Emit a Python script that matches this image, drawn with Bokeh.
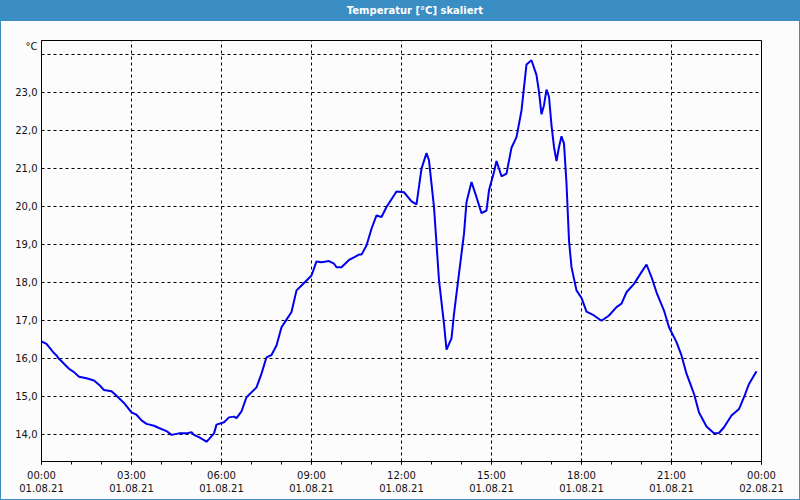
from bokeh.plotting import figure
from bokeh.models import FixedTicker, Range1d, Div
from bokeh.layouts import column
from bokeh.embed import file_html
from bokeh.resources import INLINE

# ---- data ----
times = ["00:00", "00:10", "00:25", "00:30", "00:35", "00:55", "01:05", "01:15", "01:30", "01:45",
         "01:55", "02:05", "02:20", "02:30", "02:45", "03:00", "03:10", "03:20", "03:30", "03:45",
         "03:55", "04:10", "04:20", "04:35", "04:50", "05:00", "05:05", "05:15", "05:30", "05:35",
         "05:45", "05:50", "06:05", "06:15", "06:25", "06:30", "06:40", "06:50", "07:10", "07:20",
         "07:30", "07:40", "07:50", "08:00", "08:10", "08:20", "08:30", "08:40", "09:00", "09:10",
         "09:20", "09:35", "09:45", "09:50", "10:00", "10:15", "10:25", "10:35", "10:40", "10:50",
         "11:00", "11:10", "11:20", "11:30", "11:50", "12:05", "12:20", "12:30", "12:40", "12:50",
         "12:55", "13:05", "13:10", "13:15", "13:25", "13:30", "13:40", "13:45", "13:55", "14:05",
         "14:10", "14:20", "14:30", "14:40", "14:50", "14:55", "15:05", "15:10", "15:20", "15:30",
         "15:40", "15:50", "16:00", "16:10", "16:20", "16:30", "16:35", "16:40", "16:45", "16:50",
         "16:55", "17:00", "17:05", "17:10", "17:15", "17:20", "17:25", "17:30", "17:35", "17:40",
         "17:50", "18:00", "18:10", "18:25", "18:40", "18:55", "19:10", "19:20", "19:30", "19:45",
         "20:00", "20:10", "20:20", "20:30", "20:45", "20:55", "21:10", "21:20", "21:30", "21:45",
         "21:55", "22:10", "22:25", "22:35", "22:45", "23:00", "23:15", "23:25", "23:35", "23:45",
         "23:50"]
temps = [16.46, 16.39, 16.15, 16.09, 16.00, 15.74, 15.65, 15.53, 15.49, 15.43,
         15.32, 15.18, 15.15, 15.03, 14.84, 14.59, 14.53, 14.38, 14.29, 14.24,
         14.18, 14.10, 14.00, 14.04, 14.04, 14.07, 14.00, 13.94, 13.82, 13.89,
         14.04, 14.27, 14.33, 14.46, 14.48, 14.44, 14.62, 14.99, 15.25, 15.61,
         16.04, 16.10, 16.35, 16.83, 17.03, 17.23, 17.80, 17.93, 18.19, 18.56,
         18.54, 18.57, 18.50, 18.41, 18.41, 18.60, 18.67, 18.74, 18.74, 18.98,
         19.42, 19.77, 19.73, 19.99, 20.40, 20.38, 20.14, 20.06, 21.00, 21.41,
         21.22, 19.99, 19.03, 18.06, 16.92, 16.24, 16.54, 17.18, 18.24, 19.29,
         20.12, 20.65, 20.25, 19.83, 19.90, 20.43, 20.91, 21.20, 20.80, 20.87,
         21.55, 21.83, 22.53, 23.74, 23.85, 23.46, 23.02, 22.43, 22.67, 23.08,
         22.89, 22.14, 21.57, 21.20, 21.57, 21.85, 21.66, 20.61, 19.11, 18.41,
         17.80, 17.60, 17.24, 17.14, 17.00, 17.14, 17.36, 17.45, 17.75, 17.97,
         18.28, 18.48, 18.15, 17.75, 17.27, 16.83, 16.44, 16.09, 15.61, 15.08,
         14.59, 14.22, 14.04, 14.05, 14.20, 14.51, 14.68, 14.99, 15.34, 15.56,
         15.67]

x_tick_hours = [0, 3, 6, 9, 12, 15, 18, 21, 24]
x_tick_times = ["00:00", "03:00", "06:00", "09:00", "12:00", "15:00", "18:00", "21:00", "00:00"]
x_tick_dates = ["01.08.21", "01.08.21", "01.08.21", "01.08.21", "01.08.21",
                "01.08.21", "01.08.21", "01.08.21", "02.08.21"]
x_grid_hours = [3, 6, 9, 12, 15, 18, 21]
x_minor_hours = list(range(25))
y_ticks = [14, 15, 16, 17, 18, 19, 20, 21, 22, 23]
y_tick_labels = ["14,0", "15,0", "16,0", "17,0", "18,0", "19,0", "20,0", "21,0", "22,0", "23,0"]
y_grid = [14, 15, 16, 17, 18, 19, 20, 21, 22, 23, 24]
y_min, y_max = 13.3, 24.37
title_text = "Temperatur [°C] skaliert"
unit_text = "°C"

hours = [int(t[:2]) + int(t[3:]) / 60 for t in times]

FONT = "DejaVu Sans"
BG = "#fbfcfb"
BAR = "#3b8ec3"
TXT = "#111111"

# title bar
bar = Div(text=title_text, width=800, height=21, margin=0,
          styles={"background-color": BAR, "color": "white", "font-family": FONT,
                  "font-weight": "bold", "font-size": "10px", "line-height": "21px",
                  "text-align": "center", "text-indent": "30px", "overflow": "hidden"})

p = figure(width=800, height=479, output_backend="svg", toolbar_location=None,
           x_range=Range1d(0, 24), y_range=Range1d(y_min, y_max),
           min_border_left=40, min_border_right=40, min_border_top=19, min_border_bottom=39,
           margin=0)
p.background_fill_color = BG
p.border_fill_color = BG
p.outline_line_color = "black"
p.outline_line_width = 1
p.outline_line_alpha = 1
p.styles = {"border-left": f"1px solid {BAR}", "border-right": f"1px solid {BAR}",
            "border-bottom": f"1px solid {BAR}", "box-sizing": "border-box"}

p.line(hours, temps, line_color="#0000ee", line_width=2)

# grids
p.xgrid.ticker = FixedTicker(ticks=x_grid_hours)
p.ygrid.ticker = FixedTicker(ticks=y_grid)
for g in (p.xgrid, p.ygrid):
    g.grid_line_color = "black"
    g.grid_line_dash = "3 3"
    g.grid_line_width = 1
    g.grid_line_alpha = 1

# x axis
xa = p.xaxis[0]
xa.ticker = FixedTicker(ticks=x_tick_hours, minor_ticks=x_minor_hours)
xa.major_label_overrides = {h: f"{t}\n{d}" for h, t, d in zip(x_tick_hours, x_tick_times, x_tick_dates)}
xa.major_tick_in = 0
xa.major_tick_out = 3
xa.minor_tick_in = 0
xa.minor_tick_out = 3
xa.major_label_standoff = 5
xa.axis_line_color = "black"
xa.major_tick_line_color = "black"
xa.minor_tick_line_color = "black"
xa.major_label_text_font = FONT
xa.major_label_text_font_size = "10px"
xa.major_label_text_color = TXT

# y axis (the unit "°C" sits as an extra label just under the top of the axis)
unit_pos = y_max - 0.16
ya = p.yaxis[0]
ya.ticker = FixedTicker(ticks=y_ticks + [unit_pos])
overrides = {v: s for v, s in zip(y_ticks, y_tick_labels)}
overrides[unit_pos] = unit_text
ya.major_label_overrides = overrides
ya.major_tick_in = 0
ya.major_tick_out = 0
ya.minor_tick_line_color = None
ya.major_label_standoff = 4
ya.axis_line_color = "black"
ya.major_label_text_font = FONT
ya.major_label_text_font_size = "10px"
ya.major_label_text_color = TXT

layout = column(bar, p, spacing=0, margin=0)
open("out.html", "w").write(file_html(layout, INLINE))
